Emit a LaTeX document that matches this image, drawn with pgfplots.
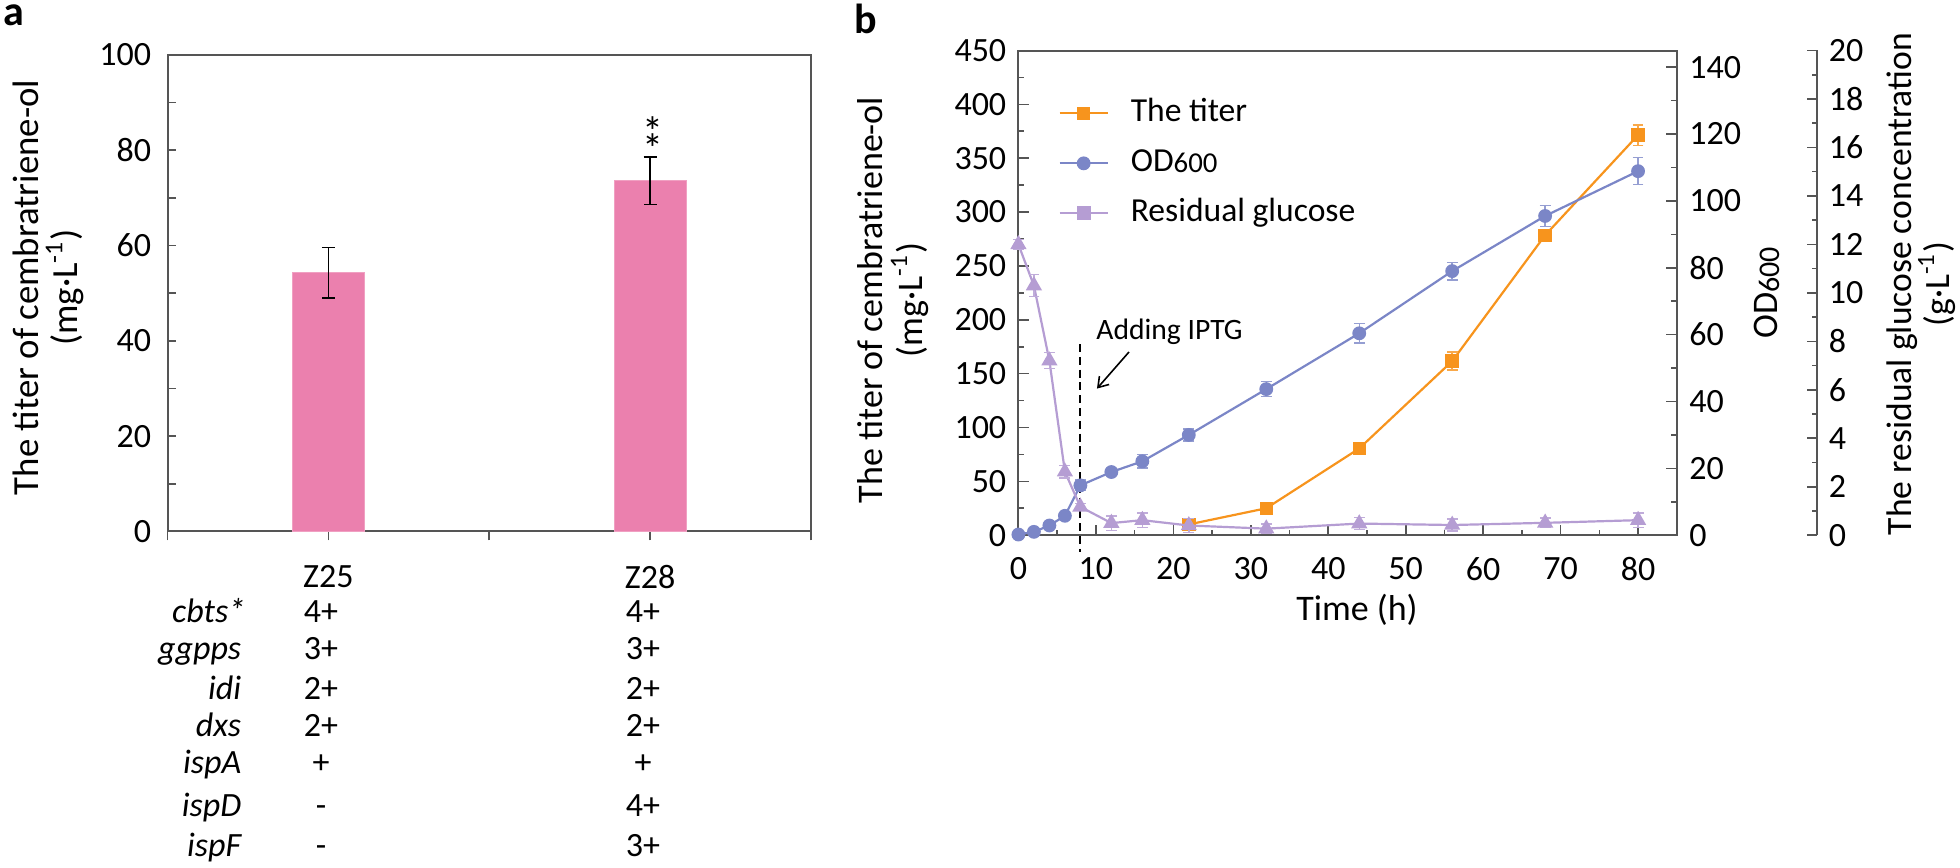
\documentclass[border=0pt]{standalone}
\usepackage{pgfplots}
\pgfplotsset{compat=1.18}
\usepackage{fontspec}
\setmainfont{Carlito}
\usetikzlibrary{arrows.meta}

\definecolor{barpink}{HTML}{EB80AE}
\definecolor{titerc}{HTML}{F7941D}
\definecolor{odc}{HTML}{7B86C7}
\definecolor{gluc}{HTML}{B59DD3}
\definecolor{axc}{HTML}{555555}

\pgfplotsset{
  common/.style={
    scale only axis,
    axis line style={axc, line width=0.5bp},
    every tick/.style={axc, line width=0.4bp},
    tick align=inside,
    /pgf/number format/assume math mode=true,
    ticklabel style={font=\fontsize{8.5bp}{10bp}\selectfont, inner sep=0pt},
  }
}

\begin{document}
\begin{tikzpicture}

% ---------------- panel a ----------------
\begin{axis}[common,
  at={(41.875bp,84.125bp)}, anchor=south west,
  width=160.875bp, height=119.2bp,
  xmin=-0.5, xmax=1.5, ymin=0, ymax=100,
  xtick={0,1}, xticklabels={Z25,Z28},
  minor xtick={-0.5,0.5,1.5},
  ytick={0,20,...,100}, minor ytick={10,30,...,90},
  xtick pos=bottom, ytick pos=left,
  major tick length=2.2bp, minor tick length=2.2bp,
  xtick align=outside,
  yticklabel style={xshift=-3.9bp},
  xticklabel style={yshift=-6.1bp},
  clip=false,
]
\addplot[ybar, bar width=18bp, fill=barpink, draw=barpink!75!white, line width=0.3bp,
  error bars/.cd, y dir=both, y explicit,
  error bar style={black, line width=0.4bp},
  error mark options={rotate=90, black, mark size=1.6bp, line width=0.4bp}]
  coordinates {(0,54.3) +- (0,5.3) (1,73.6) +- (0,5.0)};
\end{axis}

% ---------------- panel b: titer (left axis) ----------------
\begin{axis}[common,
  at={(254.6bp,83.2bp)}, anchor=south west,
  width=164.6bp, height=121.175bp,
  xmin=0, xmax=85, ymin=0, ymax=450,
  xtick={0,10,...,80}, minor xtick={5,15,...,85},
  ytick={0,50,...,450}, minor ytick={25,75,...,425},
  xtick pos=bottom, ytick pos=left,
  major tick length=2.6bp, minor tick length=1.4bp,
  yticklabel style={xshift=-2.85bp},
  xticklabel style={yshift=-5.3bp},
  clip=false,
  legend style={at={(0.061,0.905)}, anchor=north west, draw=none, fill=none,
    inner sep=0pt, outer sep=0pt, row sep=4.1bp,
    font=\fontsize{8.4bp}{10bp}\selectfont,
    nodes={inner sep=0pt, text height=6.2bp, text depth=2.2bp},
    /tikz/every odd column/.append style={column sep=5.5bp}},
  legend cell align=left,
  legend image code/.code={\draw[mark repeat=2,mark phase=2,#1] plot coordinates {(0bp,0bp) (6bp,0bp) (12bp,0bp)};},
]
\addplot[titerc, line width=0.55bp, mark=square*, mark size=1.4bp, mark options={fill=titerc, draw=titerc},
  error bars/.cd, y dir=both, y explicit,
  error bar style={titerc!80!white, line width=0.35bp},
  error mark options={rotate=90, titerc!80!white, mark size=1.35bp, line width=0.35bp}]
  coordinates {(22,10) +- (0,1) (32,25) +- (0,2) (44,80.5) +- (0,4) (56,161.6) +- (0,8.3) (68,278.5) +- (0,4) (80,371.5) +- (0,9.5)};
\addlegendentry{The titer}
\addlegendimage{odc, line width=0.55bp, mark=*, mark size=1.45bp, mark options={fill=odc, draw=odc}}
\addlegendentry{OD\raisebox{-0.4bp}{\fontsize{7.2bp}{8bp}\selectfont 600}}
\addlegendimage{gluc, line width=0.55bp, mark=square*, mark size=1.5bp, mark options={fill=gluc, draw=gluc}}
\addlegendentry{Residual glucose}
% Adding IPTG dashed line
\draw[black, line width=0.5bp, dash pattern=on 2bp off 1.2bp] (axis cs:8,177.5) -- (axis cs:8,-15.6);
\end{axis}

% ---------------- panel b: OD600 (right axis) ----------------
\begin{axis}[common,
  at={(254.6bp,83.2bp)}, anchor=south west,
  width=164.6bp, height=121.175bp,
  xmin=0, xmax=85, ymin=0, ymax=145,
  axis y line*=right, axis x line=none,
  ytick={0,20,...,140}, minor ytick={10,30,...,130},
  major tick length=2.6bp, minor tick length=1.4bp,
  yticklabel style={anchor=west, xshift=2.95bp},
  clip=false,
]
\addplot[odc, line width=0.55bp, mark=*, mark size=1.45bp, mark options={fill=odc, draw=odc},
  error bars/.cd, y dir=both, y explicit,
  error bar style={odc!80!white, line width=0.35bp},
  error mark options={rotate=90, odc!80!white, mark size=1.35bp, line width=0.35bp}]
  coordinates {(0,0.2) +- (0,0.3) (2,1.0) +- (0,0.4) (4,2.9) +- (0,0.5) (6,5.8) +- (0,0.6)
  (8,14.9) +- (0,1.6) (12,18.9) +- (0,1.0) (16,22.1) +- (0,2.0) (22,30.0) +- (0,1.8)
  (32,43.7) +- (0,2.2) (44,60.4) +- (0,2.9) (56,79.0) +- (0,2.6) (68,95.5) +- (0,3.2) (80,108.9) +- (0,4.0)};
\end{axis}

% ---------------- panel b: residual glucose (outer right axis) ----------------
\begin{axis}[common,
  at={(254.6bp,83.2bp)}, anchor=south west,
  width=199.725bp, height=121.175bp,
  xmin=0, xmax=103.136, ymin=0, ymax=20,
  axis y line*=right, axis x line=none,
  ytick={0,2,...,20}, minor ytick={1,3,...,19},
  major tick length=2.7bp, minor tick length=1.4bp,
  yticklabel style={anchor=west, xshift=2.7bp},
  clip=false,
]
\addplot[gluc, line width=0.55bp, mark=triangle*, mark size=1.8bp, mark options={fill=gluc, draw=gluc},
  error bars/.cd, y dir=both, y explicit,
  error bar style={gluc!85!white, line width=0.35bp},
  error mark options={rotate=90, gluc!85!white, mark size=1.35bp, line width=0.35bp}]
  coordinates {(0,12.0) +- (0,0.2) (2,10.3) +- (0,0.45) (4,7.2) +- (0,0.33) (6,2.62) +- (0,0.26)
  (8,1.17) +- (0,0.15) (12,0.5) +- (0,0.3) (16,0.62) +- (0,0.3) (22,0.4) +- (0,0.3)
  (32,0.27) +- (0,0.2) (44,0.48) +- (0,0.25) (56,0.42) +- (0,0.25) (68,0.51) +- (0,0.2) (80,0.62) +- (0,0.3)};
\end{axis}

% ---------------- text in pixel coordinates ----------------
\begin{scope}[x=0.25bp, y=-0.25bp, shift={(0bp,217bp)}]
  \node[anchor=base west, inner sep=0pt, font=\bfseries\fontsize{10.5bp}{12bp}\selectfont] at (3,26) {a};
  \node[anchor=base west, inner sep=0pt, font=\bfseries\fontsize{10.5bp}{12bp}\selectfont] at (854,34) {b};
  % panel a y label
  \node[rotate=90, align=center, inner sep=0pt, font=\fontsize{9.2bp}{9.75bp}\selectfont] at (48.5,287.5)
    {The titer of cembratriene-ol\\(mg·L\textsuperscript{-1})};
  % asterisks
  \node[anchor=north, align=center, inner sep=0pt, font=\fontsize{10.5bp}{10.5bp}\selectfont] at (652.7,116) {*\\[-6.3bp]*};
  % table
  \begin{scope}[every node/.style={inner sep=0pt, font=\fontsize{8.5bp}{10bp}\selectfont}]
    \node[anchor=base east, font=\itshape\fontsize{8.5bp}{10bp}\selectfont] at (246,623) {cbts*};
    \node[anchor=base east, font=\itshape\fontsize{8.5bp}{10bp}\selectfont] at (242,660) {ggpps};
    \node[anchor=base east, font=\itshape\fontsize{8.5bp}{10bp}\selectfont] at (242,700) {idi};
    \node[anchor=base east, font=\itshape\fontsize{8.5bp}{10bp}\selectfont] at (242,737) {dxs};
    \node[anchor=base east, font=\itshape\fontsize{8.5bp}{10bp}\selectfont] at (242,774) {ispA};
    \node[anchor=base east, font=\itshape\fontsize{8.5bp}{10bp}\selectfont] at (242,817) {ispD};
    \node[anchor=base east, font=\itshape\fontsize{8.5bp}{10bp}\selectfont] at (242,857) {ispF};
    \node[anchor=base] at (321,623) {4+};
    \node[anchor=base] at (321,660) {3+};
    \node[anchor=base] at (321,700) {2+};
    \node[anchor=base] at (321,737) {2+};
    \node[anchor=base] at (321,774) {+};
    \node[anchor=base] at (321,817) {-};
    \node[anchor=base] at (321,857) {-};
    \node[anchor=base] at (643,623) {4+};
    \node[anchor=base] at (643,660) {3+};
    \node[anchor=base] at (643,700) {2+};
    \node[anchor=base] at (643,737) {2+};
    \node[anchor=base] at (643,774) {+};
    \node[anchor=base] at (643,817) {4+};
    \node[anchor=base] at (643,857) {3+};
  \end{scope}
  % panel b labels
  \node[rotate=90, align=center, inner sep=0pt, font=\fontsize{9bp}{10bp}\selectfont] at (893,300)
    {The titer of cembratriene-ol\\(mg·L\textsuperscript{-1})};
  \node[rotate=90, inner sep=0pt, font=\fontsize{9bp}{10bp}\selectfont] at (1766.7,293)
    {OD\raisebox{-0.4bp}{\fontsize{7.5bp}{8bp}\selectfont 600}};
  \node[rotate=90, align=center, inner sep=0pt, font=\fontsize{8.9bp}{9.6bp}\selectfont] at (1921,284)
    {The residual glucose concentration\\(g·L\textsuperscript{-1})};
  \node[inner sep=0pt, font=\fontsize{9bp}{10bp}\selectfont] at (1357,610) {Time (h)};
  \node[inner sep=0pt, font=\fontsize{7.4bp}{9bp}\selectfont] at (1169.5,332) {Adding IPTG};
  \draw[black, line width=0.4bp, -{Straight Barb[length=2.4bp,width=3.2bp]}] (1129,352) -- (1097,388.6);
\end{scope}

\pgfresetboundingbox
\useasboundingbox (0bp,0bp) rectangle (490bp,217bp);
\end{tikzpicture}
\end{document}
